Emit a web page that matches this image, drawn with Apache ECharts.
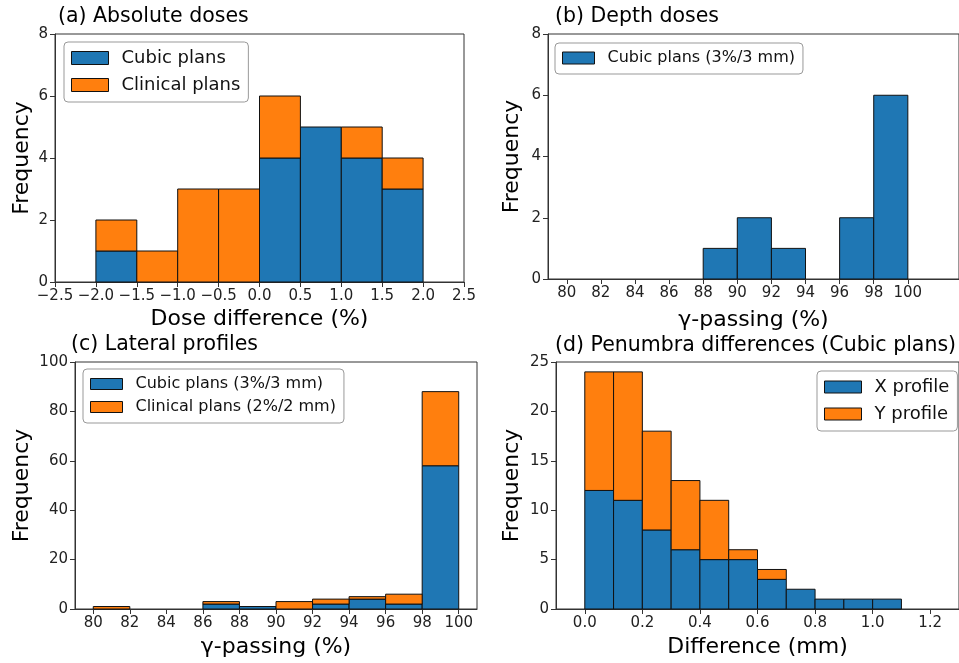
<!DOCTYPE html>
<html>
<head>
<meta charset="utf-8">
<script src="https://cdn.jsdelivr.net/npm/echarts@6/dist/echarts.min.js"></script>
<style>
html,body{margin:0;padding:0;background:#fff;}
#chart{width:959px;height:663px;}
</style>
</head>
<body>
<div id="chart"></div>
<script>
// ---- Data ----
// (a) Absolute doses: bin edges (%) and counts
const aEdges = [-2.0, -1.5, -1.0, -0.5, 0.0, 0.5, 1.0, 1.5, 2.0];
const aCubic = [1, 0, 0, 0, 4, 5, 4, 3];
const aClinical = [1, 1, 3, 3, 2, 0, 1, 1];
const aTicks = [-2.5, -2.0, -1.5, -1.0, -0.5, 0.0, 0.5, 1.0, 1.5, 2.0, 2.5];

// (b) Depth doses: gamma passing bins
const bEdges = [80, 82, 84, 86, 88, 90, 92, 94, 96, 98, 100];
const bCubic = [0, 0, 0, 0, 1, 2, 1, 0, 2, 6];
const bTicks = [80, 82, 84, 86, 88, 90, 92, 94, 96, 98, 100];

// (c) Lateral profiles
const cEdges = [80, 82, 84, 86, 88, 90, 92, 94, 96, 98, 100];
const cCubic = [0, 0, 0, 2, 1, 0, 2, 4, 2, 58];
const cClinical = [1, 0, 0, 1, 0, 3, 2, 1, 4, 30];
const cTicks = [80, 82, 84, 86, 88, 90, 92, 94, 96, 98, 100];

// (d) Penumbra differences
const dEdges = [0.0, 0.1, 0.2, 0.3, 0.4, 0.5, 0.6, 0.7, 0.8, 0.9, 1.0, 1.1];
const dX = [12, 11, 8, 6, 5, 5, 3, 2, 1, 1, 1];
const dY = [12, 13, 10, 7, 6, 1, 1, 0, 0, 0, 0];
const dTicks = [0.0, 0.2, 0.4, 0.6, 0.8, 1.0, 1.2];

// ---- Helpers ----
const BLUE = '#1f77b4', ORANGE = '#ff7f0e';
const FONT = 'DejaVu Sans';

function bins(edges, counts, base) {
  const out = [];
  for (let i = 0; i < counts.length; i++) {
    const b = base ? base[i] : 0;
    if (counts[i] > 0) out.push([edges[i], edges[i + 1], b, b + counts[i]]);
  }
  return out;
}
function renderItem(params, api) {
  const p0 = api.coord([api.value(0), api.value(3)]);
  const p1 = api.coord([api.value(1), api.value(2)]);
  return {
    type: 'rect',
    shape: { x: p0[0], y: p0[1], width: p1[0] - p0[0], height: p1[1] - p0[1] },
    style: { fill: api.visual('color'), stroke: '#111', lineWidth: 1 }
  };
}
function hist(name, color, idx, data) {
  return {
    type: 'custom', name: name, xAxisIndex: idx, yAxisIndex: idx,
    renderItem: renderItem, data: data,
    encode: { x: [0, 1], y: [2, 3] },
    itemStyle: { color: color, borderColor: '#111', borderWidth: 1 },
    clip: false
  };
}
const fmtMinus = v => String(v).replace('-', '\u2212');
function xAxis(idx, min, max, ticks, fmt, name, gap) {
  return {
    type: 'value', gridIndex: idx, min: min, max: max,
    name: name, nameLocation: 'middle', nameGap: gap,
    nameTextStyle: { fontSize: 22, color: '#000', fontFamily: FONT },
    axisLine: { show: true, onZero: false, lineStyle: { color: '#333', width: 1 } },
    axisTick: { show: true, length: 5, lineStyle: { color: '#333' }, customValues: ticks },
    axisLabel: { fontSize: 15, color: '#222', fontFamily: FONT, margin: 7, customValues: ticks, formatter: fmt, hideOverlap: false },
    splitLine: { show: false }
  };
}
function yAxis(idx, max, interval, gap) {
  return {
    type: 'value', gridIndex: idx, min: 0, max: max, interval: interval,
    name: 'Frequency', nameLocation: 'middle', nameGap: gap, nameRotate: 90,
    nameTextStyle: { fontSize: 22, color: '#000', fontFamily: FONT },
    axisLine: { show: true, onZero: false, lineStyle: { color: '#333', width: 1 } },
    axisTick: { show: true, length: 5, lineStyle: { color: '#333' } },
    axisLabel: { fontSize: 15, color: '#222', fontFamily: FONT, margin: 7 },
    splitLine: { show: false }
  };
}
function legend(names, left, top, fs, iw, ih, gap) {
  return {
    data: names, orient: 'vertical', left: left, top: top,
    icon: 'rect', itemWidth: iw, itemHeight: ih, itemGap: gap,
    padding: [7, 8, 8, 7],
    borderColor: '#999', borderWidth: 1, borderRadius: 4,
    backgroundColor: 'rgba(255,255,255,0.8)',
    selectedMode: false,
    itemStyle: { borderColor: '#111', borderWidth: 1 },
    textStyle: { fontSize: fs, color: '#111', fontFamily: FONT, padding: [0, 0, 0, 8] }
  };
}
function titleText(text, x, y) {
  return { type: 'text', left: x, top: y, z: 100,
    style: { text: text, fontSize: 20.5, fill: '#000', fontFamily: FONT } };
}

const fmt1 = v => fmtMinus(v.toFixed(1));
const fmt0 = v => String(v);

const option = {
  animation: false,
  backgroundColor: '#fff',
  textStyle: { fontFamily: FONT },
  graphic: [
    titleText('(a) Absolute doses', 58, 6),
    titleText('(b) Depth doses', 555, 6),
    titleText('(c) Lateral profiles', 71, 334),
    titleText('(d) Penumbra differences (Cubic plans)', 555, 335)
  ],
  grid: [
    { left: 55, top: 34, width: 409, height: 248, show: true, borderColor: '#333', borderWidth: 1 },
    { left: 548, top: 34, width: 418, height: 245, show: true, borderColor: '#333', borderWidth: 1 },
    { left: 75, top: 362, width: 402, height: 247, show: true, borderColor: '#333', borderWidth: 1 },
    { left: 556, top: 362, width: 412, height: 247, show: true, borderColor: '#333', borderWidth: 1 }
  ],
  xAxis: [
    xAxis(0, -2.5, 2.5, aTicks, fmt1, 'Dose difference (%)', 26),
    xAxis(1, 78.9, 103, bTicks, fmt0, '\u03b3-passing (%)', 30),
    xAxis(2, 79, 101, cTicks, fmt0, '\u03b3-passing (%)', 27),
    xAxis(3, -0.1, 1.3, dTicks, fmt1, 'Difference (mm)', 27)
  ],
  yAxis: [
    yAxis(0, 8, 2, 22),
    yAxis(1, 8, 2, 25),
    yAxis(2, 100, 20, 42),
    yAxis(3, 25, 5, 33)
  ],
  legend: [
    legend(['Cubic plans', 'Clinical plans'], 64, 42, 18, 37, 13, 9),
    legend([{ name: 'Cubic plans (3%/3 mm)' }], 555, 43, 16, 32, 12, 8),
    legend(['Cubic plans (3%/3 mm)', 'Clinical plans (2%/2 mm)'], 83, 369, 16, 32, 11, 7),
    legend(['X profile', 'Y profile'], 817, 371, 18, 37, 12, 9)
  ],
  series: [
    hist('Cubic plans', BLUE, 0, bins(aEdges, aCubic)),
    hist('Clinical plans', ORANGE, 0, bins(aEdges, aClinical, aCubic)),
    hist('Cubic plans (3%/3 mm)', BLUE, 1, bins(bEdges, bCubic)),
    hist('Cubic plans (3%/3 mm)', BLUE, 2, bins(cEdges, cCubic)),
    hist('Clinical plans (2%/2 mm)', ORANGE, 2, bins(cEdges, cClinical, cCubic)),
    hist('X profile', BLUE, 3, bins(dEdges, dX)),
    hist('Y profile', ORANGE, 3, bins(dEdges, dY, dX))
  ]
};
const chart = echarts.init(document.getElementById('chart'), null, { renderer: 'canvas' });
chart.setOption(option);
</script>
</body>
</html>
